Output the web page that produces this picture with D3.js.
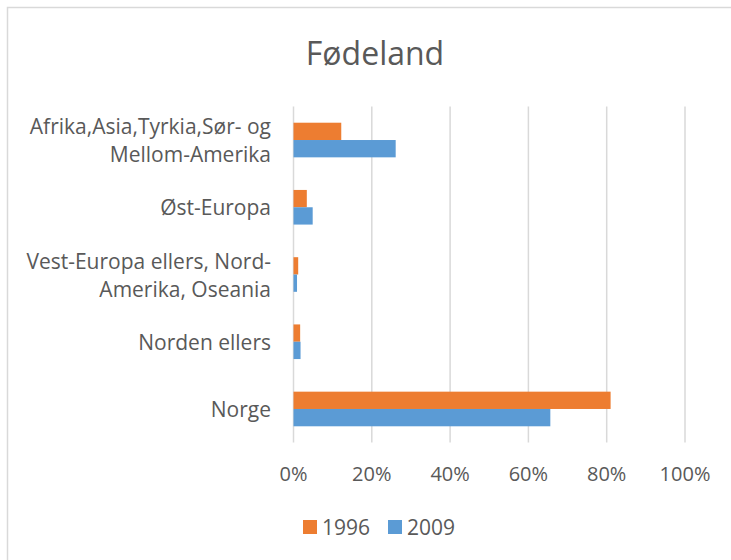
<!DOCTYPE html>
<html>
<head>
<meta charset="utf-8">
<script src="https://cdn.jsdelivr.net/npm/d3@7"></script>
<style>
  body { margin: 0; background: #fff; }
  svg text { font-family: "Open Sans", "Noto Sans", sans-serif; fill: #595959; }
</style>
</head>
<body>
<div id="chart"></div>
<script>
// Fødeland – horizontal grouped bars

const categories = [
    ["Afrika,Asia,Tyrkia,Sør- og", "Mellom-Amerika"],
    ["Øst-Europa"],
    ["Vest-Europa ellers, Nord-", "Amerika, Oseania"],
    ["Norden ellers"],
    ["Norge"]
];
const seriesNames = ["1996", "2009"];
const values1996 = [0.122, 0.034, 0.012, 0.017, 0.81];
const values2009 = [0.261, 0.049, 0.009, 0.018, 0.656];
const tickValues = [0, 0.2, 0.4, 0.6, 0.8, 1.0];
const colors = ["#ED7D31", "#5B9BD5"];

function createVisualization() {
    const svgWidth = 731;
    const svgHeight = 560;

    const svg = d3.select("#chart")
        .append("svg")
        .attr("width", svgWidth)
        .attr("height", svgHeight);

    // chart border
    svg.append("rect")
        .attr("x", 7.5).attr("y", 7.5)
        .attr("width", 730).attr("height", 560)
        .attr("fill", "none")
        .attr("stroke", "#D9D9D9")
        .attr("stroke-width", 1.5);

    // title
    svg.append("text")
        .attr("x", 375).attr("y", 52)
        .attr("text-anchor", "middle")
        .attr("dominant-baseline", "central")
        .style("font-size", "32px")
        .text("Fødeland");

    const xScale = d3.scaleLinear()
        .domain([0, 1])
        .range([293.5, 685]);

    const idx = d3.range(categories.length);
    const yScale = d3.scaleBand()
        .domain(idx)
        .range([106.4, 442.6]);

    const groupH = yScale.step() * 0.515;
    const inner = d3.scaleBand()
        .domain(seriesNames)
        .range([0, groupH]);

    // gridlines
    svg.append("g")
        .selectAll("line")
        .data(tickValues)
        .enter().append("line")
        .attr("x1", d => xScale(d)).attr("x2", d => xScale(d))
        .attr("y1", 106.4).attr("y2", 442.6)
        .attr("stroke", "#D9D9D9")
        .attr("stroke-width", 1.5);

    // x tick labels
    svg.append("g")
        .selectAll("text")
        .data(tickValues)
        .enter().append("text")
        .attr("x", d => xScale(d))
        .attr("y", 473)
        .attr("text-anchor", "middle")
        .attr("dominant-baseline", "central")
        .style("font-size", "20px")
        .text(d3.format(".0%"));

    // bars
    const series = [values1996, values2009];
    series.forEach((vals, s) => {
        svg.append("g")
            .selectAll("rect")
            .data(vals)
            .enter().append("rect")
            .attr("x", xScale(0))
            .attr("y", (d, i) => yScale(i) + (yScale.bandwidth() - groupH) / 2 + inner(seriesNames[s]))
            .attr("width", d => xScale(d) - xScale(0))
            .attr("height", inner.bandwidth())
            .attr("fill", colors[s]);
    });

    // category labels
    const lineH = 28;
    const labels = svg.append("g")
        .selectAll("text")
        .data(categories)
        .enter().append("text")
        .attr("text-anchor", "end")
        .style("font-size", "21px");

    labels.each(function(lines, i) {
        const cy = yScale(i) + yScale.bandwidth() / 2;
        const start = cy - (lines.length - 1) * lineH / 2;
        d3.select(this).selectAll("tspan")
            .data(lines)
            .enter().append("tspan")
            .attr("x", 271)
            .attr("y", (d, j) => start + j * lineH)
            .attr("dominant-baseline", "central")
            .text(d => d);
    });

    // legend
    const legendX = [303, 388];
    const legend = svg.append("g")
        .selectAll("g")
        .data(seriesNames)
        .enter().append("g")
        .attr("transform", (d, i) => `translate(${legendX[i]},527)`);

    legend.append("rect")
        .attr("x", 0).attr("y", -7)
        .attr("width", 14).attr("height", 14)
        .attr("fill", (d, i) => colors[i]);

    legend.append("text")
        .attr("x", 19).attr("y", 0)
        .attr("dominant-baseline", "central")
        .style("font-size", "21px")
        .text(d => d);
}

createVisualization();
</script>
</body>
</html>
